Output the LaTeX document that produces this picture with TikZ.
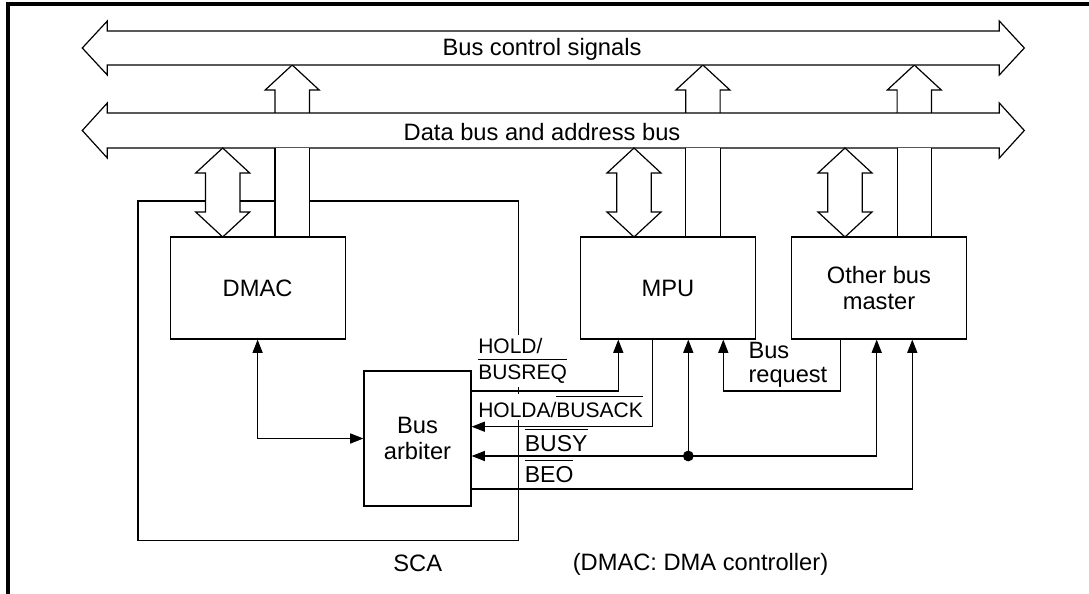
\documentclass[tikz,border=0pt]{standalone}
\usepackage{fontspec}
\setmainfont{Liberation Sans}
\usetikzlibrary{arrows.meta}
\newcommand\myovl[1]{\leavevmode\vbox{\hrule height 0.5pt\kern 2.6pt\hbox{#1}}}
\begin{document}
\begin{tikzpicture}[x=0.5pt,y=-0.5pt,line width=0.6pt,
  every node/.style={font=\fontsize{11.85}{13}\selectfont, inner sep=0pt},
  blk/.style={draw, minimum height=51pt, align=center},
  sig/.style={-{Triangle[length=6.6pt,width=5pt]}},
  sigs/.style={{Triangle[length=6.6pt,width=5pt]}-{Triangle[length=6.6pt,width=5pt]}},
  small/.style={font=\fontsize{10.5}{13}\selectfont},
  mid/.style={font=\fontsize{11.5}{13}\selectfont},
  hollow/.style={draw, fill=white}]
\useasboundingbox (0,0) rectangle (1089,594);
% frame
\draw[line width=2pt] (8,594) -- (8,4) -- (1089,4);
% SCA box
\node[draw, minimum width=190.2pt, minimum height=169.9pt] (sca) at (328.2,370.9) {};
% upper parts of control arrows
\foreach \c in {292.2,702.9,914.3} {
  \draw[hollow] (\c-17.2,113) -- (\c-17.2,90) -- (\c-27,90) -- (\c,65) -- (\c+27,90) -- (\c+17.2,90) -- (\c+17.2,113);
}
% buses
\draw[hollow] (82.3,48) -- (107.3,21) -- (107.3,31) -- (999.3,31) -- (999.3,21) -- (1024.3,48) -- (999.3,75) -- (999.3,65) -- (107.3,65) -- (107.3,75) -- cycle;
\draw[hollow] (82.3,130.5) -- (107.3,103) -- (107.3,113) -- (999.3,113) -- (999.3,103) -- (1024.3,130.5) -- (999.3,158) -- (999.3,148) -- (107.3,148) -- (107.3,158) -- cycle;
% lower parts of control arrows
\foreach \c in {292.2,702.9,914.3} {
  \fill[white] (\c-17.2,148) rectangle (\c+17.2,237);
  \draw (\c-17.2,148) -- (\c-17.2,237) (\c+17.2,148) -- (\c+17.2,237);
}
% bidirectional data arrows
\foreach \c in {222.7,634,845} {
  \draw[hollow] (\c,148) -- ++(27,25) -- ++(-9.8,0) -- ++(0,39) -- ++(9.8,0) -- ++(-27,25) -- ++(-27,-25) -- ++(9.8,0) -- ++(0,-39) -- ++(-9.8,0) -- cycle;
}
% blocks
\node[blk, minimum width=87.5pt] (dmac) at (257.6,288) {DMAC};
\node[blk, minimum width=87.2pt] (mpu) at (668,288) {MPU};
\node[blk, minimum width=87.2pt] (oth) at (879,288) {Other bus\\master};
\node[draw, minimum width=53.5pt, minimum height=67.5pt, align=center] (arb) at (417.5,438.5) {Bus\\arbiter};
% connectors
\draw[sigs] (dmac.south) |- (arb.west);
\draw[sig] (arb.east |- 0,391) -| (618.3,0 |- mpu.south);
\draw[sig] (652.7,0 |- mpu.south) |- (arb.east |- 0,426.7);
\draw[sigs] (876.7,0 |- oth.south) |- (arb.east |- 0,456);
\coordinate (j) at (688.3,456);
\draw[sig] (j) -- (688.3,0 |- mpu.south);
\fill (j) circle[radius=2.7pt];
\draw[sig] (arb.east |- 0,489) -| (912.3,0 |- oth.south);
\draw[sig] (840.7,0 |- oth.south) -- (840.7,391) -| (723.3,0 |- mpu.south);
% labels
\node[anchor=base] (t1) at (542,55.3) {Bus control signals};
\node[anchor=base] (t2) at (542,140.5) {Data bus and address bus};
\node[anchor=base] (tsca) at (417.7,571.5) {SCA};
\node[anchor=base] (tnote) at (700.5,570.5) {(DMAC: DMA controller)};
\node[anchor=west, align=left, font=\fontsize{11.8}{11.7}\selectfont] (breq) at (748,365) {Bus\\request};
\node[small, anchor=west, align=left, fill=white, inner xsep=1pt, inner ysep=1.5pt] (lhold) at (475.7,361) {HOLD/\\\myovl{BUSREQ}};
\node[small, anchor=base west, fill=white, inner xsep=1pt, inner ysep=1pt] (lholda) at (475.7,417.3) {HOLDA/\myovl{BUSACK}};
\node[mid, anchor=base west] (lbusy) at (524.3,451.7) {\myovl{BUSY}};
\node[mid, anchor=base west] (lbeo) at (524.3,482.7) {\myovl{BEO}};
\end{tikzpicture}
\end{document}
